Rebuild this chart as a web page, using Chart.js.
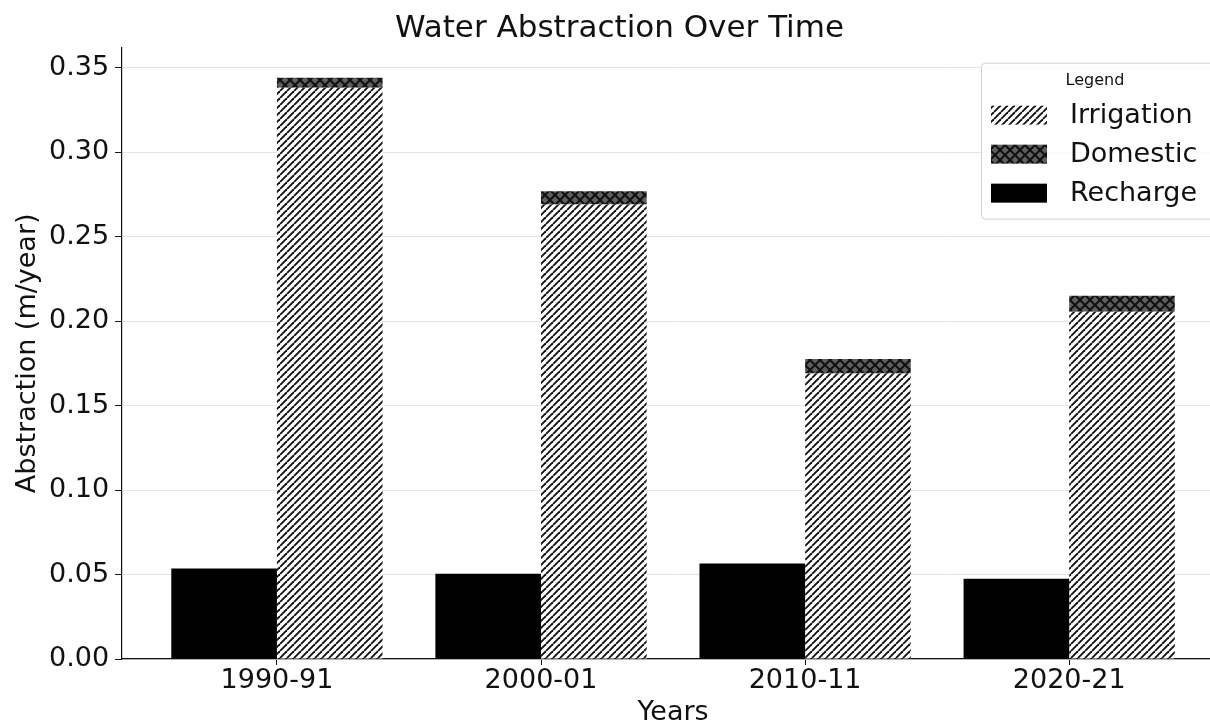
<!DOCTYPE html>
<html>
<head>
<meta charset="utf-8">
<script src="https://cdn.jsdelivr.net/npm/chart.js@4.4.1/dist/chart.umd.min.js"></script>
<style>
  html, body { margin: 0; padding: 0; background: #fff; overflow: hidden; }
  #wrap { width: 1240px; height: 723px; }
</style>
</head>
<body>
<div id="wrap"><canvas id="chart"></canvas></div>
<script>
const years = ['1990-91', '2000-01', '2010-11', '2020-21'];
const recharge = [0.0535, 0.0505, 0.0565, 0.0475];
const irrigation = [0.338, 0.269, 0.169, 0.2055];
const domestic = [0.006, 0.0078, 0.0085, 0.0095];
const yTicks = [0, 0.05, 0.10, 0.15, 0.20, 0.25, 0.30, 0.35];

const FONT = "'DejaVu Sans', sans-serif";

function hatchDiag() {
    const c = document.createElement('canvas');
    c.width = 7; c.height = 7;
    const g = c.getContext('2d');
    g.fillStyle = '#fff';
    g.fillRect(0, 0, 7, 7);
    g.strokeStyle = '#111';
    g.lineWidth = 1.9;
    for (let k = -1; k <= 1; k++) {
        g.beginPath();
        g.moveTo(k * 7, 7);
        g.lineTo(k * 7 + 7, 0);
        g.stroke();
    }
    return g.createPattern(c, 'repeat');
}

function hatchCross() {
    const c = document.createElement('canvas');
    c.width = 10; c.height = 10;
    const g = c.getContext('2d');
    g.fillStyle = '#5e5e5e';
    g.fillRect(0, 0, 10, 10);
    g.strokeStyle = '#111';
    g.lineWidth = 2;
    for (let k = -1; k <= 1; k++) {
        g.beginPath();
        g.moveTo(k * 10, 10);
        g.lineTo(k * 10 + 10, 0);
        g.stroke();
        g.beginPath();
        g.moveTo(k * 10, 0);
        g.lineTo(k * 10 + 10, 10);
        g.stroke();
    }
    return g.createPattern(c, 'repeat');
}

const irrPattern = hatchDiag();
const domPattern = hatchCross();

const pts = arr => arr.map((v, i) => ({x: i, y: v}));

// legend drawn inside the plot, upper right like matplotlib
const boxLegend = {
    id: 'boxLegend',
    afterDraw(chart) {
        const ctx = chart.ctx;
        const a = chart.chartArea;
        const left = a.right - 244, top = a.top + 15, w = 237, h = 156;
        ctx.save();
        ctx.fillStyle = 'rgba(255,255,255,0.85)';
        ctx.strokeStyle = '#d0d0d0';
        ctx.lineWidth = 1;
        ctx.beginPath();
        ctx.roundRect(left + 0.5, top + 0.5, w, h, 4);
        ctx.fill();
        ctx.stroke();

        ctx.fillStyle = '#111';
        ctx.font = '16px ' + FONT;
        ctx.textAlign = 'center';
        ctx.textBaseline = 'middle';
        ctx.fillText('Legend', left + 114, top + 18);

        const items = [
            {label: 'Irrigation', fill: irrPattern},
            {label: 'Domestic', fill: domPattern},
            {label: 'Recharge', fill: '#000'}
        ];
        ctx.font = '27px ' + FONT;
        ctx.textAlign = 'left';
        items.forEach((it, i) => {
            const cy = top + 52 + i * 39;
            ctx.fillStyle = it.fill;
            ctx.fillRect(left + 10, cy - 9, 56, 19);
            ctx.fillStyle = '#111';
            ctx.fillText(it.label, left + 89, cy + 1);
        });
        ctx.restore();
    }
};

new Chart(document.getElementById('chart'), {
    type: 'bar',
    data: {
        datasets: [
            {
                label: 'Recharge',
                data: pts(recharge),
                backgroundColor: '#000',
                stack: 'rech'
            },
            {
                label: 'Irrigation',
                data: pts(irrigation),
                backgroundColor: irrPattern,
                stack: 'abs'
            },
            {
                label: 'Domestic',
                data: pts(domestic),
                backgroundColor: domPattern,
                stack: 'abs'
            }
        ]
    },
    options: {
        responsive: true,
        maintainAspectRatio: false,
        animation: false,
        categoryPercentage: 0.8,
        barPercentage: 1.0,
        layout: {padding: {left: 14, right: 15, top: 0, bottom: -3}},
        plugins: {
            legend: {display: false},
            tooltip: {enabled: false},
            title: {
                display: true,
                text: 'Water Abstraction Over Time',
                color: '#111',
                font: {family: FONT, size: 31, weight: 'normal', lineHeight: 1.15},
                padding: {top: 11, bottom: 1}
            }
        },
        scales: {
            x: {
                type: 'linear',
                min: -0.59,
                max: 3.59,
                offset: false,
                stacked: true,
                afterBuildTicks: s => { s.ticks = years.map((y, i) => ({value: i})); },
                ticks: {
                    callback: v => years[v],
                    color: '#111',
                    font: {family: FONT, size: 27, lineHeight: 1.0},
                    padding: 2,
                    maxRotation: 0
                },
                grid: {drawOnChartArea: false, offset: false, tickLength: 6, tickColor: '#111'},
                border: {color: '#111', width: 1.2},
                title: {
                    display: true,
                    text: 'Years',
                    color: '#111',
                    font: {family: FONT, size: 27, lineHeight: 1.0},
                    padding: {top: 3, bottom: 0}
                }
            },
            y: {
                min: 0,
                max: 0.3618,
                stacked: true,
                afterBuildTicks: s => { s.ticks = yTicks.map(v => ({value: v})); },
                ticks: {
                    callback: v => v.toFixed(2),
                    color: '#111',
                    font: {family: FONT, size: 27},
                    padding: 6
                },
                grid: {color: '#e4e4e4', tickLength: 6, tickColor: '#111'},
                border: {color: '#111', width: 1.2},
                title: {
                    display: true,
                    text: 'Abstraction (m/year)',
                    color: '#111',
                    font: {family: FONT, size: 27, lineHeight: 1.0},
                    padding: {top: 0, bottom: 2}
                }
            }
        }
    },
    plugins: [boxLegend]
});
</script>
</body>
</html>
